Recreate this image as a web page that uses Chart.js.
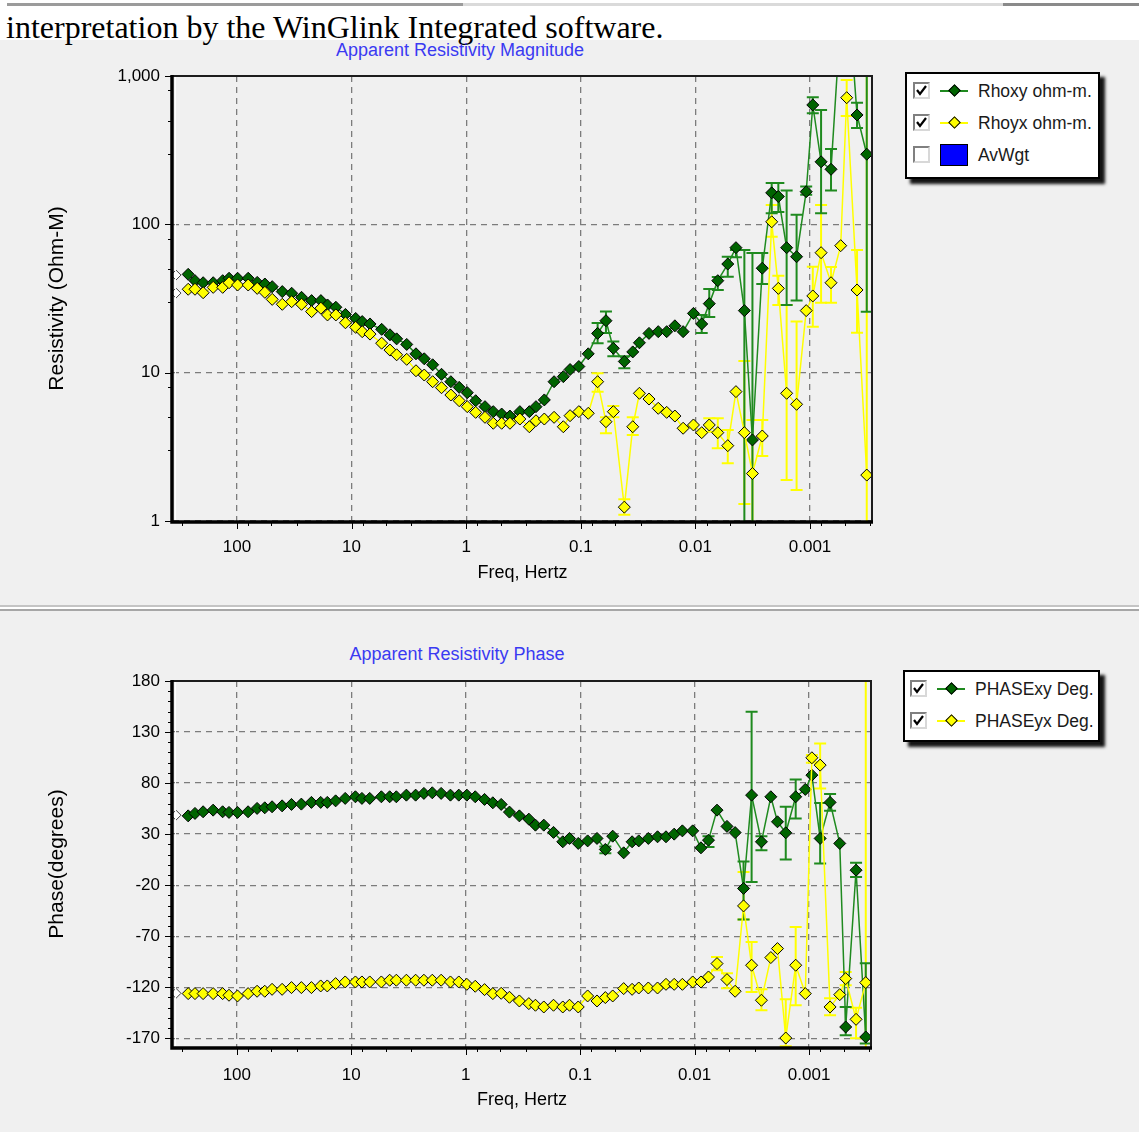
<!DOCTYPE html>
<html>
<head>
<meta charset="utf-8">
<title>Apparent Resistivity</title>
<script src="https://cdn.jsdelivr.net/npm/chart.js@4.4.0/dist/chart.umd.min.js"></script>
<style>
  body { margin: 0; width: 1139px; height: 1132px; background: #f0f0f0; position: relative; overflow: hidden;
         font-family: 'Liberation Sans', Arial, sans-serif; }
  #caption { position: absolute; left: 0; top: 0; width: 1139px; height: 40px; background: #fff; }
  #caption .rule { position: absolute; top: 3px; height: 3px; }
  #caption span { position: absolute; left: 6px; top: 11px; font: 32px 'Liberation Serif', 'Times New Roman', serif;
                  line-height: 32px; color: #000; white-space: nowrap; }
  .plotTitle { position: absolute; color: #3a3af2; font-size: 18px; white-space: nowrap; transform: translate(-50%, -50%); }
  .sep { position: absolute; left: 0; width: 1139px; }
  canvas { position: absolute; left: 0; }
  .legend { position: absolute; background: #fff; border: 2px solid #000; box-shadow: 5px 5px 3px #151515; }
  .item { position: absolute; left: 0; right: 0; height: 22px; }
  .chk { position: absolute; top: 2px; width: 13px; height: 13px; background: #fff;
         border-top: 2px solid #808080; border-left: 2px solid #808080; border-bottom: 2px solid #d8d8d8; border-right: 2px solid #d8d8d8; }
  .chk svg { position: absolute; left: 0; top: 0; }
  .swatch { position: absolute; top: 10px; width: 28px; height: 2px; }
  .swatch i { position: absolute; left: 10px; top: -4px; width: 7px; height: 7px; border: 1px solid #000; transform: rotate(45deg); }
  .block { position: absolute; top: 0; width: 26px; height: 20px; background: #0000ff; border: 1px solid #000; }
  .txt { position: absolute; top: 0; font-size: 17.5px; line-height: 22px; color: #1a1a1a; white-space: nowrap; }
</style>
</head>
<body>
<div id="caption">
  <div class="rule" style="left:7px;width:456px;background:#9b9b9b"></div>
  <div class="rule" style="left:463px;width:540px;background:#dadada"></div>
  <div class="rule" style="left:1003px;width:136px;background:#8a8a8a"></div>
  <span>interpretation by the WinGlink Integrated software.</span>
</div>

<div class="plotTitle" style="left:460px;top:50px">Apparent Resistivity Magnitude</div>
<canvas id="rhoChart" width="900" height="560" style="top:40px"></canvas>

<div class="sep" style="top:605px;height:2px;background:#c4c4c4"></div>
<div class="sep" style="top:607px;height:2px;background:#ffffff"></div>
<div class="sep" style="top:609px;height:2px;background:#a6a6a6"></div>

<div class="plotTitle" style="left:457px;top:654px">Apparent Resistivity Phase</div>
<canvas id="phaseChart" width="900" height="500" style="top:620px"></canvas>

<div class="legend" style="left:905px;top:72px;width:191px;height:103px">
  <div class="item" style="top:6px">
    <span class="chk" style="left:6px"><svg width="13" height="13"><polyline points="2,6 5,10 11,2" fill="none" stroke="#000" stroke-width="2.2"/></svg></span>
    <span class="swatch" style="left:33px;background:#1f8a1f"><i style="background:#006400"></i></span>
    <span class="txt" style="left:71px">Rhoxy ohm-m.</span>
  </div>
  <div class="item" style="top:38px">
    <span class="chk" style="left:6px"><svg width="13" height="13"><polyline points="2,6 5,10 11,2" fill="none" stroke="#000" stroke-width="2.2"/></svg></span>
    <span class="swatch" style="left:33px;background:#ffff00"><i style="background:#ffff00"></i></span>
    <span class="txt" style="left:71px">Rhoyx ohm-m.</span>
  </div>
  <div class="item" style="top:70px">
    <span class="chk" style="left:6px"></span>
    <span class="block" style="left:33px"></span>
    <span class="txt" style="left:71px">AvWgt</span>
  </div>
</div>

<div class="legend" style="left:903px;top:670px;width:193px;height:68px">
  <div class="item" style="top:6px">
    <span class="chk" style="left:5px"><svg width="13" height="13"><polyline points="2,6 5,10 11,2" fill="none" stroke="#000" stroke-width="2.2"/></svg></span>
    <span class="swatch" style="left:32px;background:#1f8a1f"><i style="background:#006400"></i></span>
    <span class="txt" style="left:70px">PHASExy Deg.</span>
  </div>
  <div class="item" style="top:38px">
    <span class="chk" style="left:5px"><svg width="13" height="13"><polyline points="2,6 5,10 11,2" fill="none" stroke="#000" stroke-width="2.2"/></svg></span>
    <span class="swatch" style="left:32px;background:#ffff00"><i style="background:#ffff00"></i></span>
    <span class="txt" style="left:70px">PHASEyx Deg.</span>
  </div>
</div>

<script>
// sounding frequencies, Hz (high to low)
const freqHz = [266, 232, 197, 161, 133, 117, 98.6, 79.7, 66.5, 57.0,
  49.2, 40.2, 33.3, 27.3, 22.3, 18.5, 16.2, 13.7, 11.3, 9.20,
  8.07, 6.90, 5.46, 4.62, 4.04, 3.30, 2.74, 2.32, 1.96, 1.64,
  1.36, 1.15, 0.978, 0.826, 0.685, 0.580, 0.490, 0.415, 0.340, 0.281,
  0.246, 0.208, 0.171, 0.142, 0.124, 0.104, 0.0861, 0.0713, 0.0603, 0.0520,
  0.0417, 0.0352, 0.0308, 0.0254, 0.0211, 0.0178, 0.0151, 0.0128, 0.0104, 0.00881,
  0.00757, 0.00638, 0.00522, 0.00443, 0.00374, 0.00318, 0.00261, 0.00216, 0.00189, 0.00160,
  0.00131, 0.00108, 0.000946, 0.000801, 0.000656, 0.000540, 0.000479, 0.000389, 0.000320];

// apparent resistivity, ohm-m
const rhoXY = [46.0, 41.7, 40.4, 40.4, 41.7, 43.3, 43.3, 43.3, 40.6, 39.6,
  38.0, 35.2, 34.3, 32.2, 30.6, 30.6, 28.6, 27.6, 24.7, 23.2,
  22.1, 21.3, 19.6, 18.0, 16.9, 15.5, 13.4, 12.4, 11.3, 9.75,
  8.69, 7.96, 7.33, 6.47, 5.90, 5.46, 5.26, 5.10, 5.46, 5.46,
  5.90, 6.55, 8.69, 9.40, 10.5, 11.0, 13.4, 18.4, 22.4, 14.6,
  11.9, 13.8, 15.9, 18.4, 18.9, 18.9, 20.7, 18.9, 25.1, 21.3,
  29.2, 41.7, 54.0, 69.6, 26.2, 3.52, 50.6, 163, 154, 69.6,
  60.5, 166, 638, 264, 235, 2500, 5000, 546, 297];
const rhoYX = [36.5, 36.5, 34.6, 37.6, 37.6, 40.4, 39.0, 39.0, 37.0, 34.8,
  31.2, 28.9, 30.1, 28.9, 25.8, 27.2, 24.5, 24.5, 21.7, 20.2,
  18.9, 18.2, 15.8, 14.2, 13.2, 12.3, 10.3, 9.64, 8.69, 7.92,
  7.07, 6.47, 5.90, 5.40, 5.00, 4.56, 4.56, 4.56, 4.87, 4.32,
  4.74, 4.87, 5.00, 4.32, 5.13, 5.46, 5.32, 8.69, 4.67, 5.46,
  1.24, 4.32, 7.26, 6.64, 5.75, 5.40, 5.10, 4.22, 4.44, 3.94,
  4.44, 3.94, 3.22, 7.45, 3.94, 2.09, 3.74, 104, 37.0, 7.26,
  6.12, 26.2, 32.9, 64.4, 40.4, 71.8, 714, 36.1, 2.04];

// phase, degrees
const phaseXY = [47.9, 50.3, 51.9, 53.5, 51.9, 51.3, 51.3, 51.9, 55.2, 55.8,
  56.8, 57.7, 59.1, 59.4, 61.1, 61.1, 61.1, 62.6, 65.0, 66.6,
  65.0, 65.0, 66.6, 66.6, 66.6, 68.2, 68.2, 69.9, 70.5, 69.9,
  68.2, 68.2, 68.2, 66.6, 64.0, 60.7, 59.1, 51.6, 47.9, 44.7,
  38.8, 38.8, 31.7, 22.5, 25.8, 20.9, 23.4, 25.8, 15.0, 28.0,
  11.7, 22.5, 23.4, 25.8, 27.4, 27.4, 30.0, 33.2, 33.2, 16.6,
  24.1, 53.5, 37.6, 31.5, -23.2, 68.2, 22.5, 66.6, 42.1, 31.3,
  66.6, 73.8, 87.8, 25.8, 61.1, 20.9, -158.9, -5.3, -168.7];
const phaseYX = [-126.2, -126.2, -126.2, -126.2, -126.2, -127.8, -128.5, -126.2, -123.9, -123.9,
  -122.0, -122.0, -120.3, -120.3, -120.3, -118.7, -118.7, -116.4, -114.8, -114.8,
  -114.8, -114.8, -114.8, -113.1, -113.1, -113.1, -113.1, -113.1, -113.1, -113.1,
  -114.8, -114.8, -117.1, -119.0, -122.3, -126.2, -125.9, -129.8, -133.4, -136.0,
  -137.6, -139.3, -137.6, -139.3, -137.6, -139.3, -128.5, -133.4, -130.1, -128.5,
  -121.3, -122.0, -120.7, -120.7, -120.7, -117.1, -117.1, -117.1, -114.8, -114.8,
  -109.9, -96.8, -112.5, -123.9, -40.3, -98.4, -132.7, -90.9, -82.1, -169.7,
  -98.4, -126.2, 104.8, 97.6, -139.3, -127.2, -111.5, -151.4, -115.4];

// error bars: [frequency index, low, high]
const rhoXYErr = [[47, 15.8, 21.6], [48, 18.5, 25.8], [49, 12.9, 16.2], [50, 10.7, 12.9],
  [59, 18.5, 24.5], [60, 23.7, 36.6], [61, 36.1, 44.2], [62, 44.4, 60.5], [63, 60, 67.2],
  [64, 0.9, 67.2], [65, 0.9, 64.1], [66, 39.6, 64.1], [67, 119, 190], [68, 121, 190],
  [69, 28.6, 169], [70, 30.6, 116], [71, 158, 180], [72, 560, 720], [73, 119, 590],
  [74, 169, 322], [77, 446, 661], [78, 25.7, 3000]];
const rhoYXErr = [[47, 7.45, 9.9], [48, 3.9, 5.0], [49, 5.0, 5.96], [50, 1.1, 1.4], [51, 3.8, 5.0],
  [60, 4.0, 4.92], [61, 3.09, 4.92], [62, 2.45, 4.10], [64, 1.30, 12.0], [65, 0.9, 4.80],
  [66, 2.74, 4.80], [67, 82.6, 135], [68, 28.6, 45], [69, 1.89, 28.6], [70, 1.62, 22.1],
  [72, 20.4, 51.8], [73, 29.6, 135], [74, 29.6, 51.5], [76, 537, 940], [77, 18.6, 67.2],
  [78, 0.5, 3000]];
const phaseXYErr = [[48, 11.4, 18], [60, 17.5, 28], [64, -53.7, 3.2], [65, -16.8, 149.9],
  [66, 14.3, 28], [69, 5.2, 56.8], [70, 45.4, 83.6], [73, 1.3, 60.4], [74, 53, 69.2],
  [76, -167, -139.3], [77, -12, 1.9], [78, -175, -96.5]];
const phaseYXErr = [[61, -103.3, -90.3], [62, -121, -106.3], [64, -53.7, -7], [65, -124.6, -75.6],
  [66, -142.5, -122], [69, -177.8, -131.8], [70, -137.6, -60.9], [72, 100, 107.5],
  [73, 74.8, 118.9], [74, -147.5, -130.8], [76, -118, -105], [77, -170, -140], [78, -200, 200]];

// masked samples sitting on the left edge
const maskedFreq = [340, 340];
const maskedRho = [45.5, 34.4];
const maskedPhase = [48.6, -125.9];

// axes
const freqRange = [0.000288, 361];
const freqTicks = [100, 10, 1, 0.1, 0.01, 0.001];
const freqMinor = [300, 80, 50, 30, 8, 5, 3, 0.8, 0.5, 0.3, 0.08, 0.05, 0.03,
  0.008, 0.005, 0.003, 0.0008, 0.0005, 0.0003];
const rhoRange = [1, 1000];
const rhoTicks = [1, 10, 100, 1000];
const rhoMinor = [3, 5, 8, 30, 50, 80, 300, 500, 800];
const phaseRange = [-178.5, 180];
const phaseTicks = [180, 130, 80, 30, -20, -70, -120, -170];

const phaseMinor = [];
for (let v = -170; v < 180; v += 10) {
  if ((180 - v) % 50 !== 0) phaseMinor.push(v);
}

const FONT = "'Liberation Sans', Arial, sans-serif";
const GREEN_LINE = '#1f8a1f';
const GREEN_FILL = '#006400';
const YELLOW = '#ffff00';

function pts(xs, ys) {
  return ys.map(function (y, i) { return { x: xs[i], y: y }; });
}

// vertical error bars with caps, clipped to the plot
const errorBars = {
  id: 'errorBars',
  beforeDatasetsDraw(chart) {
    const { ctx, chartArea: a, scales } = chart;
    ctx.save();
    ctx.beginPath();
    ctx.rect(a.left, a.top, a.right - a.left, a.bottom - a.top);
    ctx.clip();
    chart.data.datasets.forEach(function (ds) {
      if (!ds.errors) return;
      ctx.strokeStyle = ds.borderColor;
      ctx.lineWidth = 2;
      ds.errors.forEach(function (e) {
        const px = scales.x.getPixelForValue(freqHz[e[0]]);
        const y1 = scales.y.getPixelForValue(e[1]);
        const y2 = scales.y.getPixelForValue(e[2]);
        ctx.beginPath();
        ctx.moveTo(px, y1); ctx.lineTo(px, y2);
        ctx.moveTo(px - 6, y1); ctx.lineTo(px + 6, y1);
        ctx.moveTo(px - 6, y2); ctx.lineTo(px + 6, y2);
        ctx.stroke();
      });
    });
    ctx.restore();
  }
};

// heavy axes, thin top/right border and tick marks
const frame = {
  id: 'frame',
  afterDatasetsDraw(chart, args, opts) {
    const { ctx, chartArea: a, scales } = chart;
    ctx.save();
    ctx.strokeStyle = '#000';
    ctx.lineWidth = 1;
    ctx.beginPath();
    opts.xMinor.forEach(function (v) {
      const px = Math.round(scales.x.getPixelForValue(v)) + 0.5;
      ctx.moveTo(px, a.bottom); ctx.lineTo(px, a.bottom + 5);
    });
    freqTicks.forEach(function (v) {
      const px = Math.round(scales.x.getPixelForValue(v)) + 0.5;
      ctx.moveTo(px, a.bottom); ctx.lineTo(px, a.bottom + 8);
    });
    opts.yMinor.forEach(function (v) {
      const py = Math.round(scales.y.getPixelForValue(v)) + 0.5;
      ctx.moveTo(a.left, py); ctx.lineTo(a.left - 5, py);
    });
    opts.yMajor.forEach(function (v) {
      const py = Math.round(scales.y.getPixelForValue(v)) + 0.5;
      ctx.moveTo(a.left, py); ctx.lineTo(a.left - 8, py);
    });
    ctx.stroke();

    ctx.strokeStyle = '#1c1c1c';
    ctx.lineWidth = 2;
    ctx.beginPath();
    ctx.moveTo(a.left, a.top); ctx.lineTo(a.right, a.top); ctx.lineTo(a.right, a.bottom);
    ctx.stroke();

    ctx.strokeStyle = '#000';
    ctx.lineWidth = 3.5;
    ctx.beginPath();
    ctx.moveTo(a.left - 1, a.top - 1); ctx.lineTo(a.left - 1, a.bottom + 1); ctx.lineTo(a.right + 1, a.bottom + 1);
    ctx.stroke();

    ctx.strokeStyle = '#ffffff';
    ctx.lineWidth = 1;
    ctx.beginPath();
    ctx.moveTo(a.left + 2.5, a.top + 1); ctx.lineTo(a.left + 2.5, a.bottom - 1);
    ctx.stroke();
    ctx.restore();
  }
};

function series(label, ys, errs, line, fill, order) {
  return {
    label: label,
    data: pts(freqHz, ys),
    errors: errs,
    borderColor: line,
    backgroundColor: fill,
    borderWidth: 1.5,
    pointStyle: 'rectRot',
    pointRadius: 6,
    pointBackgroundColor: fill,
    pointBorderColor: '#000',
    pointBorderWidth: 1,
    tension: 0,
    order: order
  };
}

function masked(ys) {
  return {
    label: 'masked',
    data: pts(maskedFreq, ys),
    showLine: false,
    pointStyle: 'rectRot',
    pointRadius: 5,
    pointBackgroundColor: '#ffffff',
    pointBorderColor: '#444',
    pointBorderWidth: 1,
    order: 3
  };
}

function makeChart(el, cfg) {
  return new Chart(el, {
    type: 'line',
    data: { datasets: cfg.datasets },
    options: {
      responsive: false,
      animation: false,
      devicePixelRatio: 1,
      layout: { padding: cfg.padding },
      plugins: {
        legend: { display: false },
        tooltip: { enabled: false },
        frame: { xMinor: freqMinor, yMinor: cfg.yMinor, yMajor: cfg.yTicks }
      },
      scales: {
        x: {
          type: 'logarithmic',
          reverse: true,
          min: freqRange[0],
          max: freqRange[1],
          afterBuildTicks: function (s) { s.ticks = freqTicks.map(function (v) { return { value: v }; }); },
          afterFit: function (s) { s.height = cfg.xHeight; },
          ticks: {
            autoSkip: false, maxRotation: 0, padding: cfg.xTickPad, color: '#000',
            font: { family: FONT, size: 17 },
            callback: function (v) { return String(v); }
          },
          grid: { color: '#7c7c7c', lineWidth: 1.3, drawTicks: false },
          border: { display: false, dash: [6, 5] },
          title: {
            display: true, text: 'Freq, Hertz', color: '#000',
            font: { family: FONT, size: 18 }, padding: { top: 0, bottom: cfg.xTitlePad }
          }
        },
        y: {
          type: cfg.yType,
          min: cfg.yRange[0],
          max: cfg.yRange[1],
          afterBuildTicks: function (s) { s.ticks = cfg.yTicks.map(function (v) { return { value: v }; }); },
          afterFit: function (s) { s.width = 173; },
          ticks: {
            autoSkip: false, padding: 13, color: '#000',
            font: { family: FONT, size: 17 },
            callback: cfg.yLabel
          },
          grid: { color: '#7c7c7c', lineWidth: 1.3, drawTicks: false },
          border: { display: false, dash: [6, 5] },
          title: {
            display: true, text: cfg.yTitle, color: '#000',
            font: { family: FONT, size: 21 }, padding: { top: 45, bottom: 0 }
          }
        }
      }
    },
    plugins: [errorBars, frame]
  });
}

makeChart(document.getElementById('rhoChart'), {
  datasets: [
    series('Rhoyx ohm-m.', rhoYX, rhoYXErr, YELLOW, YELLOW, 1),
    series('Rhoxy ohm-m.', rhoXY, rhoXYErr, GREEN_LINE, GREEN_FILL, 2),
    masked(maskedRho)
  ],
  padding: { left: 0, top: 36, right: 28, bottom: 0 },
  xHeight: 79, xTickPad: 16, xTitlePad: 16,
  yType: 'logarithmic', yRange: rhoRange, yTicks: rhoTicks, yMinor: rhoMinor,
  yTitle: 'Resistivity (Ohm-M)',
  yLabel: function (v) { return Number(v).toLocaleString('en-US'); }
});

makeChart(document.getElementById('phaseChart'), {
  datasets: [
    series('PHASEyx Deg.', phaseYX, phaseYXErr, YELLOW, YELLOW, 1),
    series('PHASExy Deg.', phaseXY, phaseXYErr, GREEN_LINE, GREEN_FILL, 2),
    masked(maskedPhase)
  ],
  padding: { left: 0, top: 61, right: 29, bottom: 0 },
  xHeight: 73, xTickPad: 18, xTitlePad: 9,
  yType: 'linear', yRange: phaseRange, yTicks: phaseTicks, yMinor: phaseMinor,
  yTitle: 'Phase(degrees)',
  yLabel: function (v) { return String(v); }
});
</script>
</body>
</html>
